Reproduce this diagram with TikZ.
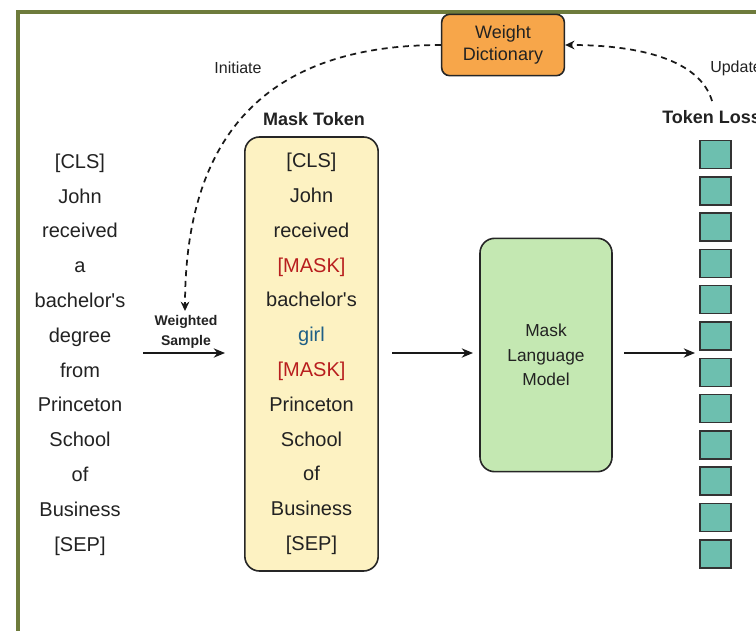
\documentclass[tikz,border=0pt]{standalone}
\usepackage{fontspec}
\setmainfont{Liberation Sans}
\usetikzlibrary{arrows.meta}
\definecolor{frameol}{HTML}{6E7B3C}
\definecolor{wdfill}{HTML}{F7A64A}
\definecolor{yfill}{HTML}{FDF2C2}
\definecolor{gfill}{HTML}{C4E8B2}
\definecolor{tfill}{HTML}{6DBFAF}
\definecolor{txt}{HTML}{222222}
\definecolor{mred}{HTML}{B81E1E}
\definecolor{mblue}{HTML}{1F5F86}
\newcommand{\apos}{\XeTeXglyph\XeTeXglyphindex "quotesingle"\relax}
\tikzset{
  box/.style={draw=black!85, line width=1.2pt, rounded corners=9pt, text=txt, align=center, inner sep=0pt},
  sq/.style={draw=black!80, fill=tfill, line width=1.1pt, minimum width=23.5pt, minimum height=21pt, inner sep=0pt},
  arr/.style={-{Stealth[length=8.5pt,width=7pt]}, line width=1.1pt, black!90},
  darr/.style={-{Stealth[length=7pt,width=6.5pt]}, line width=1.3pt, dash pattern=on 4.5pt off 3.5pt, black!90},
  lab/.style={text=txt, inner sep=0pt}
}
\begin{document}
\begin{tikzpicture}[x=0.75pt,y=-0.75pt]
\useasboundingbox (0,0) rectangle (756,631);
\fill[white] (0,0) rectangle (756,631);
% frame
\draw[frameol, line width=2.4pt] (760,12) -- (18,12) -- (18,640);
% weight dictionary
\node[box, fill=wdfill, minimum width=92pt, minimum height=46pt, rounded corners=6pt,
  font=\fontsize{13.5}{16}\selectfont] (wd) at (503,45) {Weight\\Dictionary};
% labels
\node[lab, font=\fontsize{12}{14}\selectfont] (init) at (238,68) {Initiate};
\node[lab, anchor=west, font=\fontsize{12}{14}\selectfont] (upd) at (710,68) {Update};
\node[lab, font=\bfseries\fontsize{13.5}{16}\selectfont] (mt) at (314,119) {Mask Token};
\node[lab, anchor=west, font=\bfseries\fontsize{13.5}{16}\selectfont] (tl) at (662,117) {Token Loss};
% left column
\node[lab, align=center, font=\fontsize{15}{26.1}\selectfont] (src) at (80,354.5)
  {{[CLS]}\\John\\received\\a\\bachelor\apos s\\degree\\from\\Princeton\\School\\of\\Business\\{[SEP]}};
% weighted sample
\node[lab, align=center, font=\bfseries\fontsize{10.5}{15}\selectfont] (ws) at (186,332) {Weighted\\Sample};
\coordinate (wsa) at (143,353);
\coordinate (wsb) at (225,353);
\draw[arr] (wsa) -- (wsb);
% mask token box
\node[box, fill=yfill, minimum width=100pt, minimum height=325.5pt, rounded corners=11pt,
  font=\fontsize{15}{26.1}\selectfont] (mask) at (311.5,354)
  {{[CLS]}\\John\\received\\\textcolor{mred}{[MASK]}\\bachelor\apos s\\\textcolor{mblue}{girl}\\\textcolor{mred}{[MASK]}\\Princeton\\School\\of\\Business\\{[SEP]}};
% MLM
\node[box, fill=gfill, minimum width=99pt, minimum height=175pt, rounded corners=11pt,
  font=\fontsize{13}{18.5}\selectfont] (mlm) at (546,355) {Mask\\Language\\Model};
% squares
\foreach \i in {0,...,11} {
  \node[sq] (s\i) at (715.5,154.5+36.3*\i) {};
}
\coordinate (a1) at (392,353);
\coordinate (a2) at (473,353);
\draw[arr] (a1) -- (a2);
\coordinate (b1) at (624,353);
\coordinate (b2) at (695,353);
\draw[arr] (b1) -- (b2);
% dashed curves
\coordinate (wsTop) at (185,311);
\draw[darr] (wd.west) .. controls (310,45) and (185,95) .. (wsTop);
\coordinate (updStart) at (712,101);
\draw[darr] (updStart) .. controls (700,60) and (640,45) .. (wd.east);
\end{tikzpicture}
\end{document}
